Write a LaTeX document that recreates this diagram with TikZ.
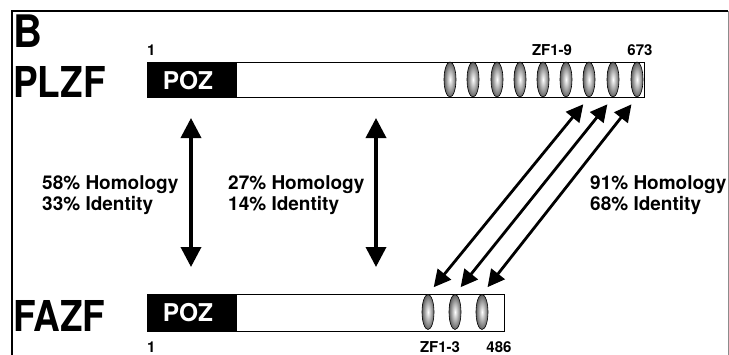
\documentclass[tikz,border=0pt]{standalone}
\usepackage{fontspec}
\usepackage{graphicx}
\setmainfont{TeX Gyre Heros}
\usetikzlibrary{arrows.meta,shapes.geometric}

\newcommand\tallname[2]{\scalebox{1}[#1]{#2}}

\begin{document}
\begin{tikzpicture}[x=1pt,y=-1pt,
  bar/.style={draw=black, line width=1.3pt, fill=white, inner sep=0pt, anchor=north west},
  pozbox/.style={fill=black, inner sep=0pt, anchor=north west, minimum width=90pt},
  pozlabel/.style={text=white, font=\bfseries\fontsize{24.5}{24.5}\selectfont, inner sep=0pt},
  zf/.style={ellipse, draw=black, line width=0.6pt, inner color=white, outer color=black!62,
    minimum width=12pt, inner sep=0pt},
  protname/.style={font=\bfseries\fontsize{37}{37}\selectfont, inner sep=0pt, anchor=base west},
  resnum/.style={font=\bfseries\fontsize{15}{15}\selectfont, inner sep=0pt, anchor=base},
  stat/.style={font=\bfseries\fontsize{19}{21}\selectfont, inner sep=0pt, anchor=north west, align=left},
  bigarrow/.style={line width=3.6pt, {Triangle[width=20pt,length=20pt]}-{Triangle[width=20pt,length=20pt]}},
  zfarrow/.style={line width=2.8pt, {Triangle[width=17pt,length=17pt]}-{Triangle[width=17pt,length=17pt]},
    shorten <=9pt, shorten >=9pt}
]
\path[use as bounding box] (0,0) rectangle (729,354);
\clip (0,0) rectangle (729,354);

% panel frame
\draw[line width=2pt] (12,360) -- (12,11) -- (728,11);
\draw[black!45, line width=0.8pt] (728,11) -- (728,360);

% panel letter and protein names
\node[font=\bfseries\fontsize{40}{40}\selectfont, inner sep=0pt, anchor=base west] (panel) at (13,47) {\tallname{1.12}{B}};
\node[protname] (nplzf) at (13,97) {\tallname{1.15}{PLZF}};
\node[protname] (nfazf) at (13,331) {\tallname{1.15}{FAZF}};

% PLZF domain bar
\node[bar, minimum width=497pt, minimum height=35pt] (plzf) at (147,62) {};
\node[pozbox, minimum height=35pt] (pozA) at (plzf.north west) {};
\node[pozlabel] (pozAt) at (188,81) {POZ};
\foreach \i/\x in {1/450,2/473,3/497,4/520,5/543,6/566,7/589,8/613,9/637}
  \node[zf, minimum height=35pt] (pz\i) at (\x,79.5) {};

% FAZF domain bar
\node[bar, minimum width=357pt, minimum height=37pt] (fazf) at (147,293.5) {};
\node[pozbox, minimum height=37pt] (pozB) at (fazf.north west) {};
\node[pozlabel] (pozBt) at (188,313) {POZ};
\foreach \i/\x in {1/428,2/455,3/482}
  \node[zf, minimum height=35pt] (fz\i) at (\x,312) {};

% residue positions
\node[resnum, anchor=base west] (p1) at (147,55) {1};
\node[resnum] (pzf) at (552,55) {ZF1-9};
\node[resnum] (pend) at (640,55) {673};
\node[resnum, anchor=base west] (f1) at (147,352) {1};
\node[resnum] (fzf) at (440,352) {ZF1-3};
\node[resnum] (fend) at (499,352) {486};

% homology arrows
\coordinate (aTop) at (191,118);
\coordinate (aBot) at (191,267);
\coordinate (bTop) at (376,118);
\coordinate (bBot) at (376,267);
\draw[bigarrow] (aTop) -- (aBot);
\draw[bigarrow] (bTop) -- (bBot);
\foreach \i/\j in {1/7,2/8,3/9}
  \draw[zfarrow] (fz\i.north) -- (pz\j.south);

% homology figures
\node[stat] (sA) at (42,175.5) {58\% Homology\\33\% Identity};
\node[stat] (sB) at (228,175.5) {27\% Homology\\14\% Identity};
\node[stat] (sC) at (590,175.5) {91\% Homology\\68\% Identity};
\end{tikzpicture}
\end{document}
